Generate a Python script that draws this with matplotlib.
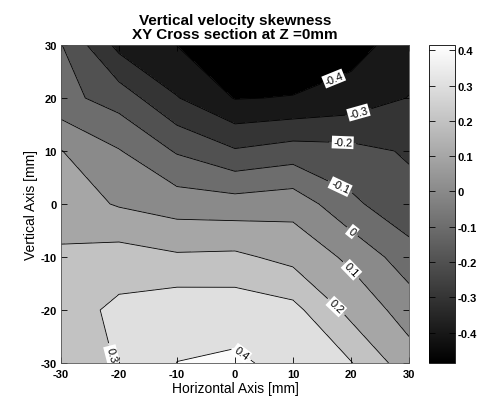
import numpy as np
import matplotlib
matplotlib.use("Agg")
import matplotlib.pyplot as plt
from matplotlib import cm
from matplotlib.colors import Normalize

plt.rcParams['font.family'] = ['Liberation Sans', 'DejaVu Sans']
plt.rcParams['axes.unicode_minus'] = False

# grid of the measurement (mm)
x_mm = [-30, -20, -10, 0, 10, 20, 30]
y_mm = [30, 20, 10, 0, -10, -20, -30]

# skewness, one row per y (top row y=30 ... bottom row y=-30)
row_y30 = [-0.095, -0.33, -0.402, -0.48, -0.486, -0.44, -0.35]
row_y20 = [-0.069, -0.143, -0.295, -0.405, -0.395, -0.36, -0.297]
row_y10 = [0.103, 0.006, -0.11, -0.19, -0.155, -0.17, -0.21]
row_y0 = [0.15, 0.091, 0.054, 0.045, 0.064, -0.079, -0.17]
row_ym10 = [0.216, 0.243, 0.214, 0.22, 0.17, 0.079, -0.057]
row_ym20 = [0.25, 0.324, 0.365, 0.36, 0.33, 0.17, 0.057]
row_ym30 = [0.25, 0.305, 0.401, 0.415, 0.371, 0.305, 0.143]

contour_levels = [-0.4, -0.3, -0.2, -0.1, 0.0, 0.1, 0.2, 0.3, 0.4]
cbar_ticks = [-0.4, -0.3, -0.2, -0.1, 0.0, 0.1, 0.2, 0.3, 0.4]

# where the inline labels sit (data coords)
label_pos = [(16.9, 24.0), (21.0, 18.3), (18.6, 12.8), (19.0, 5.3),
             (20.3, -5.1), (20.2, -12.3), (17.6, -19.2), (-19.5, -27.9),
             (1.4, -27.7)]

Z = np.array([row_y30, row_y20, row_y10, row_y0, row_ym10, row_ym20, row_ym30])
X, Y = np.meshgrid(x_mm, y_mm)
zmin, zmax = Z.min(), Z.max()

fig = plt.figure(figsize=(4.87, 4.06), dpi=100)
ax = fig.add_axes([61 / 487, 1 - 364 / 406, 348 / 487, 318 / 406])
cax = fig.add_axes([429 / 487, 1 - 364 / 406, 26 / 487, 318 / 406])

# matlab style: each band takes the colour of its lower level
fill_levels = [zmin - 0.01] + contour_levels + [zmax + 0.01]
lows = [zmin] + contour_levels
colors = [cm.gray((lo - zmin) / (zmax - zmin)) for lo in lows]
ax.contourf(X, Y, Z, levels=fill_levels, colors=colors)
cs = ax.contour(X, Y, Z, levels=contour_levels, colors='k', linewidths=0.6,
                linestyles='solid')

labels = ax.clabel(cs, contour_levels, manual=label_pos, inline=True,
                   inline_spacing=4, fontsize=8, fmt=lambda v: '%g' % round(v, 1))
for t in labels:
    t.set_bbox(dict(boxstyle='square,pad=0.12', fc='white', ec='none'))

ax.set_xlim(-30, 30)
ax.set_ylim(-30, 30)
ax.set_xticks(x_mm)
ax.set_yticks(y_mm)
ax.tick_params(direction='in', top=True, right=True, length=4, width=0.6,
               labelsize=8)
ax.tick_params(axis='x', pad=4)
ax.tick_params(axis='y', pad=3)
for lab in ax.get_xticklabels() + ax.get_yticklabels():
    lab.set_fontweight('bold')
for s in ax.spines.values():
    s.set_linewidth(0.6)
    s.set_color('#555555')

ax.set_xlabel('Horizontal Axis [mm]', fontsize=10, labelpad=2)
ax.set_ylabel('Vertical Axis [mm]', fontsize=10, labelpad=2)
ax.set_title('Vertical velocity skewness\nXY Cross section at Z =0mm',
             fontsize=11, fontweight='bold', pad=5, linespacing=1.05)

sm = cm.ScalarMappable(norm=Normalize(zmin, zmax), cmap='gray')
cb = fig.colorbar(sm, cax=cax)
cb.set_ticks(cbar_ticks)
cb.set_ticklabels(['%g' % t for t in cbar_ticks])
cax.tick_params(direction='in', left=True, right=True, length=4, width=0.6,
                labelsize=8, pad=2)
for lab in cax.get_yticklabels():
    lab.set_fontweight('bold')
cb.outline.set_linewidth(0.6)

fig.savefig('out.png', dpi=100)
